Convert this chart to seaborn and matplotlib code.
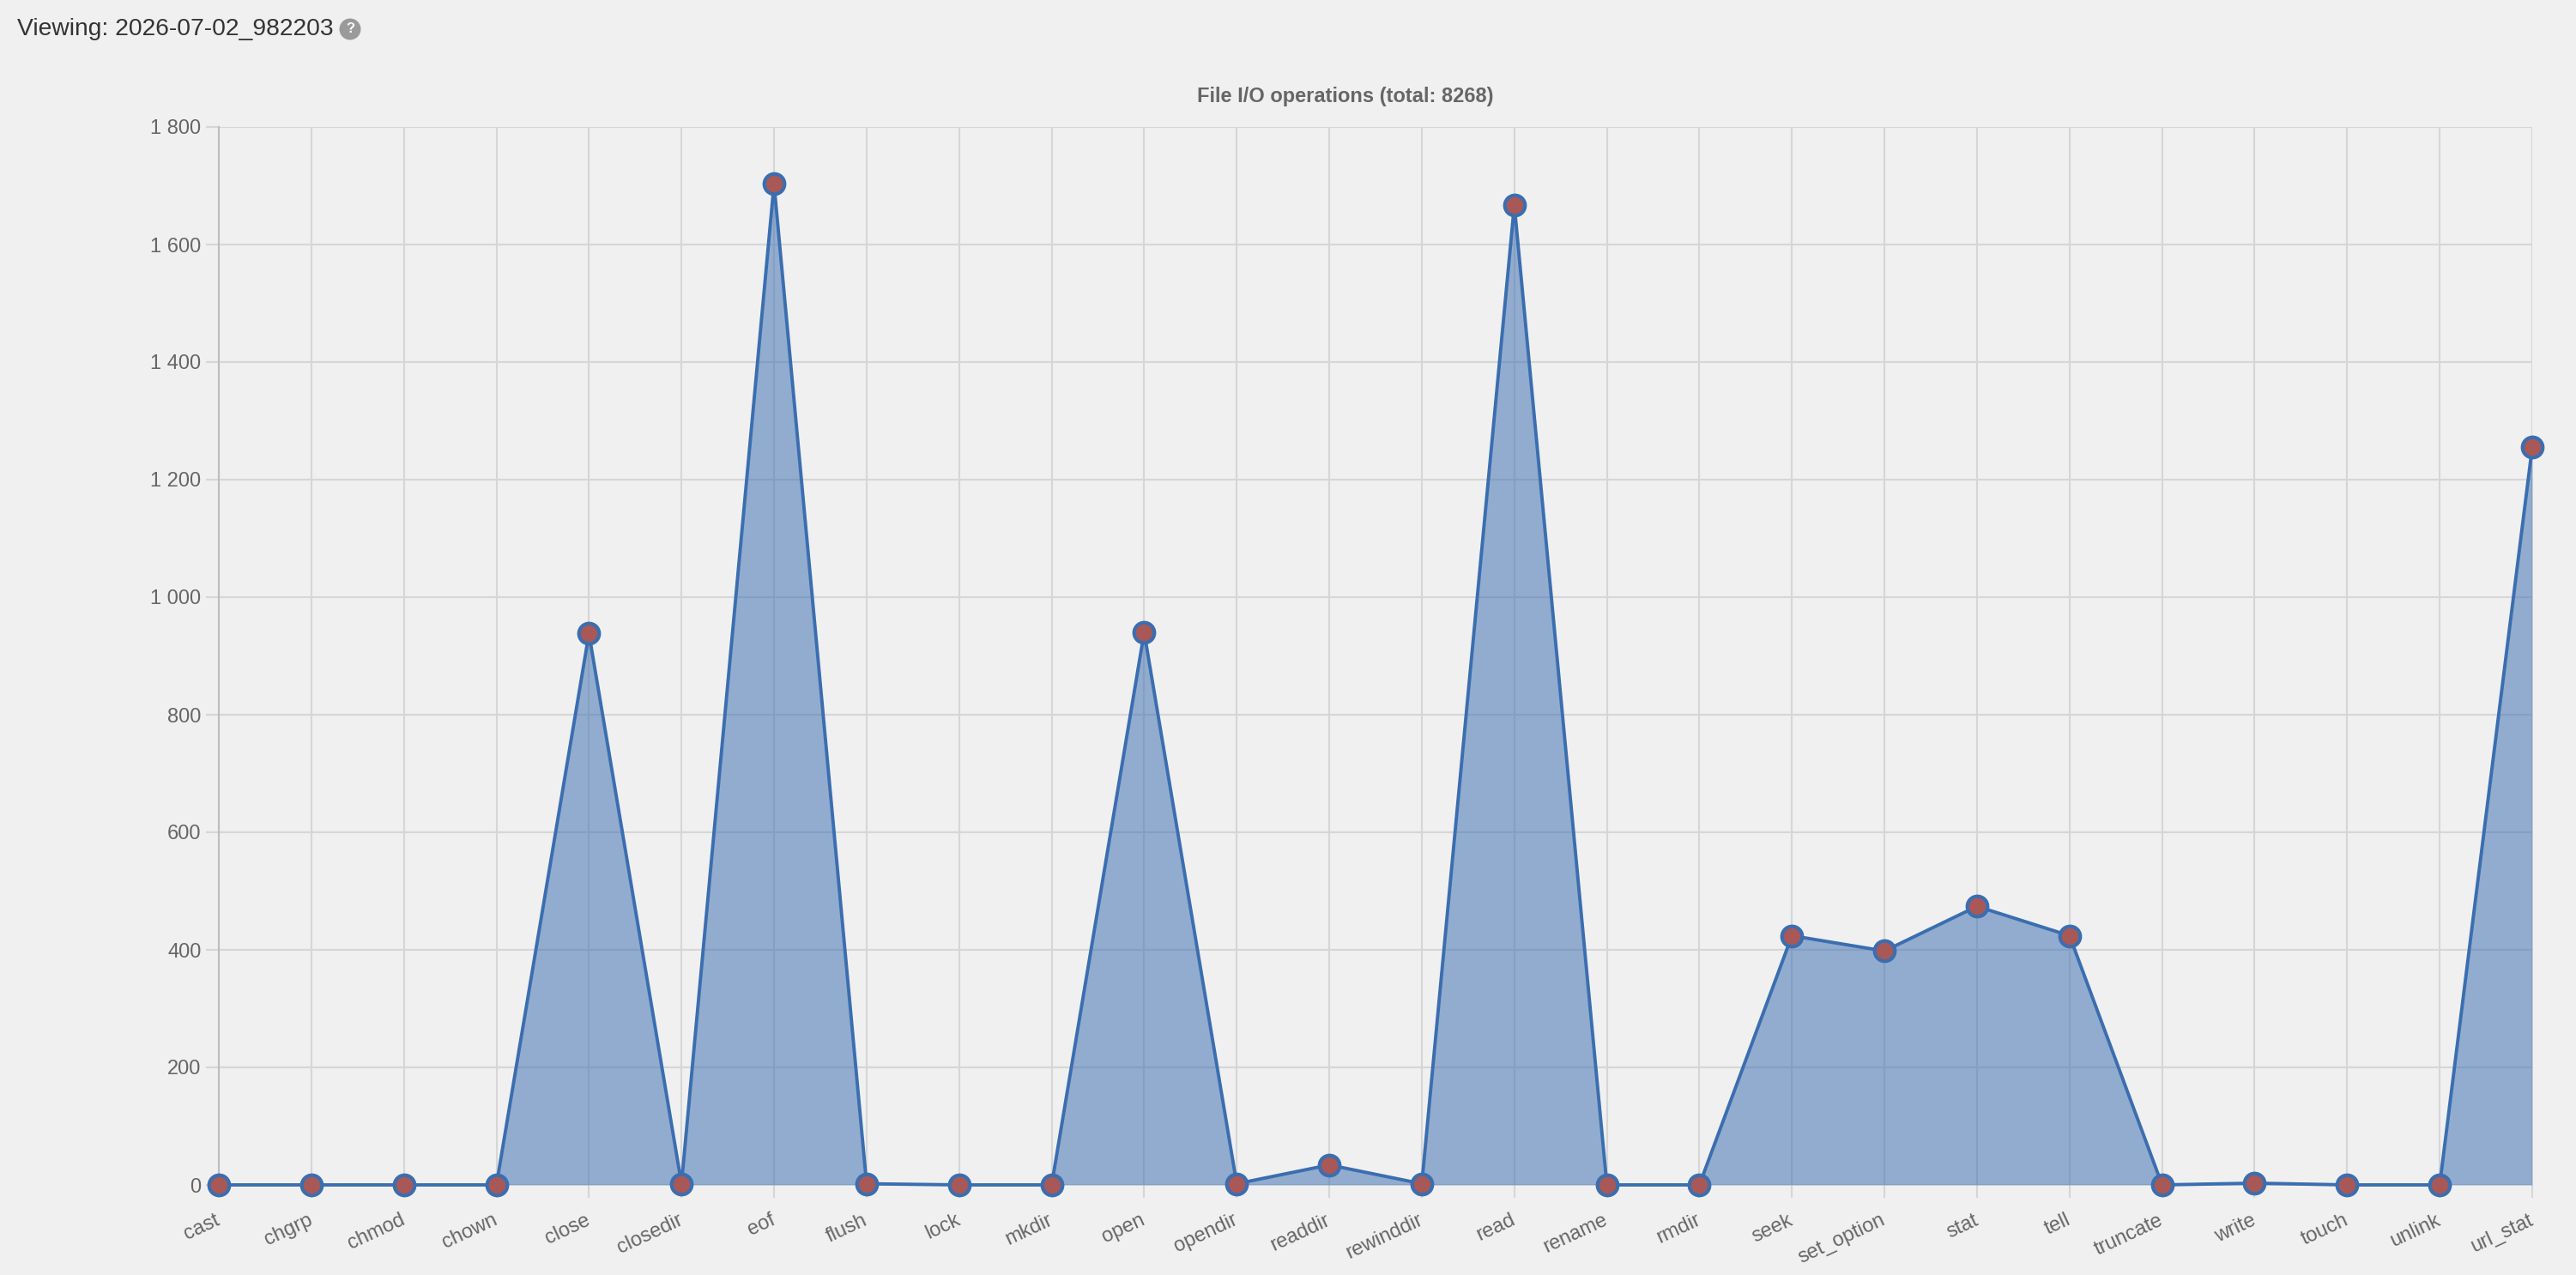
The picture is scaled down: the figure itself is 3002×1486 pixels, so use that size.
import matplotlib
matplotlib.use("Agg")
import matplotlib.pyplot as plt
import matplotlib.ticker as mticker
import pandas as pd
import seaborn as sns

operations = ["cast", "chgrp", "chmod", "chown", "close", "closedir", "eof", "flush",
              "lock", "mkdir", "open", "opendir", "readdir", "rewinddir", "read",
              "rename", "rmdir", "seek", "set_option", "stat", "tell", "truncate",
              "write", "touch", "unlink", "url_stat"]
counts = [0, 0, 0, 0, 938, 2, 1703, 2,
          0, 0, 940, 2, 34, 2, 1667,
          0, 0, 424, 398, 474, 424, 0,
          3, 0, 0, 1255]
y_ticks = [0, 200, 400, 600, 800, 1000, 1200, 1400, 1600, 1800]
title_text = "File I/O operations (total: 8268)"
viewing_text = "Viewing: 2026-07-02_982203"

BG = "#f0f0f0"
LINE = "#3b6eb0"
MARKER_FACE = "#a85856"
GRID = "#d6d6d6"
TEXT = "#666666"

sns.set_theme(style="whitegrid")
plt.rcParams["font.family"] = ["Liberation Sans", "DejaVu Sans"]

W, H = 3002, 1486
fig = plt.figure(figsize=(W / 100, H / 100), dpi=100, facecolor=BG)
left, right, top, bottom = 255, 2951, 148, 1381
ax = fig.add_axes([left / W, 1 - bottom / H, (right - left) / W, (bottom - top) / H])
ax.set_facecolor(BG)

df = pd.DataFrame({"operation": operations, "count": counts})

sns.lineplot(data=df, x="operation", y="count", ax=ax, sort=False,
             color=LINE, linewidth=2.8, marker="o", markersize=17,
             markerfacecolor=MARKER_FACE, markeredgecolor=LINE,
             markeredgewidth=3.0, zorder=4, clip_on=False)
ax.fill_between(df["operation"], df["count"], 0, color=LINE, alpha=0.52,
                linewidth=0, zorder=3)

ax.set_xlim(0, len(operations) - 1)
ax.set_ylim(0, 1800)
ax.set_yticks(y_ticks)
ax.yaxis.set_major_formatter(mticker.FuncFormatter(lambda v, p: f"{int(v):,}".replace(",", " ")))

ax.set_axisbelow(True)
ax.grid(True, color=GRID, linewidth=1.5)
for s in ["top", "right", "bottom"]:
    ax.spines[s].set_visible(False)
ax.spines["left"].set_color("#bdbdbd")
ax.spines["left"].set_linewidth(1.5)

ax.set_xlabel("")
ax.set_ylabel("")
ax.tick_params(axis="y", length=10.8, width=1.5, color=GRID, pad=4,
               labelsize=17, labelcolor=TEXT, left=True)
ax.tick_params(axis="x", length=10.8, width=1.5, color=GRID, pad=18,
               labelsize=17, labelcolor=TEXT, bottom=True)
plt.setp(ax.get_xticklabels(), rotation=25, ha="right", va="center",
         rotation_mode="anchor")

fig.text(1568 / W, 1 - 112 / H, title_text, ha="center", va="center",
         fontsize=17, fontweight="bold", color=TEXT)
fig.text(20 / W, 1 - 34 / H, viewing_text, ha="left", va="center",
         fontsize=20.3, color="#333333")
fig.text(408 / W, 1 - 34 / H, "?", ha="center", va="center", color="white",
         fontsize=12, fontweight="bold",
         bbox=dict(boxstyle="circle,pad=0.3", fc="#9a9a9a", ec="none"))

fig.savefig("out.png", dpi=100, facecolor=BG)
